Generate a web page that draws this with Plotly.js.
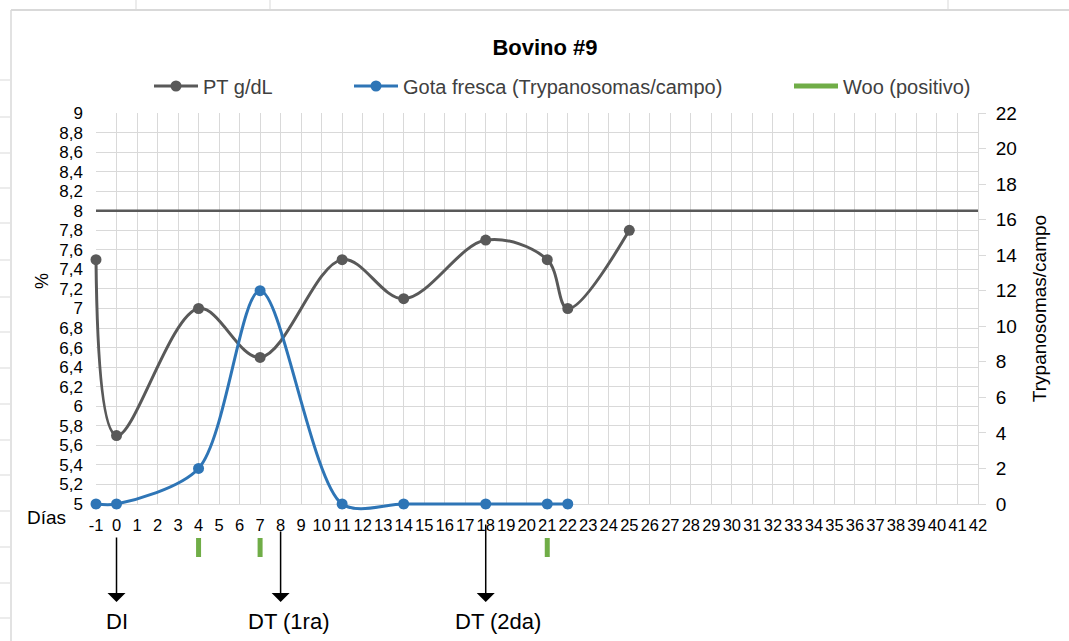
<!DOCTYPE html>
<html>
<head>
<meta charset="utf-8">
<script src="https://cdn.plot.ly/plotly-3.0.1.min.js"></script>
<style>
  html, body { margin: 0; padding: 0; background: #ffffff; }
  #chart { width: 1069px; height: 641px; }
</style>
</head>
<body>
<div id="chart"></div>
<script>
// Sampling days and measurements for Bovino #9
const ptDays = [-1, 0, 4, 7, 11, 14, 18, 21, 22, 25];
const ptValues = [7.5, 5.7, 7.0, 6.5, 7.5, 7.1, 7.7, 7.5, 7.0, 7.8];

const gotaDays = [-1, 0, 4, 7, 11, 14, 18, 21, 22];
const gotaValues = [0, 0, 2, 12, 0, 0, 0, 0, 0];

// Days with a positive Woo test
const wooDays = [4, 7, 21];

// Treatment / inoculation days and their labels
const eventDays = [0, 8, 18];
const eventLabels = ['DI', 'DT (1ra)', 'DT (2da)'];

// Reference level line across the whole period
const refDays = [-1, 42];
const refValues = [8, 8];

// Category ticks of the day axis
const tickDays = [-1, 0, 1, 2, 3, 4, 5, 6, 7, 8, 9, 10, 11, 12, 13, 14, 15, 16, 17, 18, 19, 20,
                  21, 22, 23, 24, 25, 26, 27, 28, 29, 30, 31, 32, 33, 34, 35, 36, 37, 38, 39, 40, 41, 42];
const tickLabels = tickDays.map(String);

// Plot-area geometry (pixels) used to place decorations in paper units
const M = { l: 96, r: 91, t: 113, b: 137 };
const W = 1069, H = 641;
const PW = W - M.l - M.r, PH = H - M.t - M.b;
const px = x => (x - M.l) / PW;
const py = y => (H - M.b - y) / PH;

const FONT = 'Liberation Sans, Arial, sans-serif';
const GREY = '#595959';
const BLUE = '#2e75b6';
const GREEN = '#70ad47';
const GRID = '#d9d9d9';

const traces = [
  {
    x: refDays, y: refValues, mode: 'lines', yaxis: 'y',
    line: { color: GREY, width: 2.5 }, showlegend: false, hoverinfo: 'skip', cliponaxis: false
  },
  {
    name: 'PT g/dL', x: ptDays, y: ptValues, mode: 'lines+markers', yaxis: 'y',
    line: { color: GREY, width: 3, shape: 'spline', smoothing: 1 },
    marker: { color: GREY, size: 11 }, legend: 'legend', cliponaxis: false
  },
  {
    name: 'Gota fresca (Trypanosomas/campo)', x: gotaDays, y: gotaValues, mode: 'lines+markers', yaxis: 'y2',
    line: { color: BLUE, width: 3, shape: 'spline', smoothing: 0.85 },
    marker: { color: BLUE, size: 11 }, legend: 'legend2', cliponaxis: false
  },
  {
    name: 'Woo (positivo)', x: [null], y: [null], mode: 'lines', yaxis: 'y',
    line: { color: GREEN, width: 5 }, legend: 'legend3', hoverinfo: 'skip'
  }
];

const shapes = [];
// Woo-positive marks under the day axis
wooDays.forEach(d => shapes.push({
  type: 'line', xref: 'x', yref: 'paper', x0: d, x1: d, y0: py(538), y1: py(557),
  line: { color: GREEN, width: 5 }
}));
// Worksheet frame around the chart object
shapes.push({ type: 'line', xref: 'paper', yref: 'paper', x0: px(11), x1: px(11), y0: py(10), y1: py(641),
  line: { color: GRID, width: 1.5 }, layer: 'below' });
shapes.push({ type: 'line', xref: 'paper', yref: 'paper', x0: px(11), x1: px(1069), y0: py(10), y1: py(10),
  line: { color: GRID, width: 2 }, layer: 'below' });
[80, 117, 153, 188, 223, 260, 297, 332, 368, 404, 440, 475, 511, 547, 583, 618].forEach(y => shapes.push({
  type: 'line', xref: 'paper', yref: 'paper', x0: px(0), x1: px(10), y0: py(y), y1: py(y),
  line: { color: GRID, width: 1 }, layer: 'below' }));
[136, 270, 948].forEach(x => shapes.push({
  type: 'line', xref: 'paper', yref: 'paper', x0: px(x), x1: px(x), y0: py(0), y1: py(9),
  line: { color: GRID, width: 1 }, layer: 'below' }));

const annotations = [];
const arrowTails = [536, 530, 523];
const labelShift = [0, 8, 12];
eventDays.forEach((d, i) => {
  annotations.push({
    x: d, xref: 'x', y: py(602), yref: 'paper', text: '', showarrow: true,
    ax: 0, ay: -(602 - arrowTails[i]), arrowhead: 1, arrowsize: 2, arrowwidth: 1.5,
    arrowcolor: '#000000', standoff: 0
  });
  annotations.push({
    x: d, xref: 'x', y: py(621), yref: 'paper', text: eventLabels[i], showarrow: false,
    xshift: labelShift[i], xanchor: 'center', yanchor: 'middle',
    font: { family: FONT, size: 22, color: '#000000' }
  });
});
annotations.push({
  x: px(46), xref: 'paper', y: py(517), yref: 'paper', text: 'Días', showarrow: false,
  xanchor: 'center', yanchor: 'middle', font: { family: FONT, size: 19, color: '#000000' }
});
annotations.push({
  x: px(42), xref: 'paper', y: py(281), yref: 'paper', text: '%', showarrow: false, textangle: -90,
  xanchor: 'center', yanchor: 'middle', font: { family: FONT, size: 18, color: '#000000' }
});

const legendBase = {
  orientation: 'h', yref: 'paper', y: py(86), yanchor: 'middle', xanchor: 'left',
  font: { family: FONT, size: 20, color: '#404040' }, bgcolor: 'rgba(0,0,0,0)', itemwidth: 44,
  tracegroupgap: 0
};

const layout = {
  width: W, height: H,
  margin: M,
  paper_bgcolor: '#ffffff', plot_bgcolor: '#ffffff',
  separators: ',.',
  showlegend: true,
  title: {
    text: '<b>Bovino #9</b>', x: px(545), xref: 'paper', xanchor: 'center',
    y: 1 - 47 / H, yanchor: 'middle', font: { family: FONT, size: 22, color: '#000000' }
  },
  legend: Object.assign({}, legendBase, { x: px(149) }),
  legend2: Object.assign({}, legendBase, { x: px(349) }),
  legend3: Object.assign({}, legendBase, { x: px(789) }),
  xaxis: {
    range: [-1, 42], tickmode: 'array', tickvals: tickDays, ticktext: tickLabels, tickangle: 0,
    showgrid: true, gridcolor: GRID, gridwidth: 1, zeroline: false,
    showline: true, linecolor: GRID, linewidth: 1, ticks: '',
    ticklabelstandoff: 6, layer: 'below traces',
    tickfont: { family: FONT, size: 16.5, color: '#000000' }, automargin: false
  },
  yaxis: {
    range: [5, 9], dtick: 0.2, tick0: 5, showgrid: true, gridcolor: GRID, gridwidth: 1,
    zeroline: false, showline: false, ticks: '', ticklabelstandoff: 12, layer: 'below traces',
    tickfont: { family: FONT, size: 17, color: '#000000' }, automargin: false
  },
  yaxis2: {
    range: [0, 22], dtick: 2, overlaying: 'y', side: 'right', showgrid: false, zeroline: false,
    showline: true, linecolor: GRID, linewidth: 1, ticks: 'outside', ticklen: 7, tickcolor: GRID,
    ticklabelstandoff: 6, layer: 'below traces',
    tickfont: { family: FONT, size: 19, color: '#000000' }, automargin: false,
    title: { text: 'Trypanosomas/campo', standoff: 16, font: { family: FONT, size: 19, color: '#000000' } }
  },
  shapes: shapes,
  annotations: annotations
};

Plotly.newPlot('chart', traces, layout, { displayModeBar: false, staticPlot: true }).then(gd => {
  // let curves that touch the frame edges draw in full width
  gd.querySelectorAll('.cartesianlayer .scatterlayer [clip-path], .cartesianlayer .plot[clip-path]')
    .forEach(el => el.removeAttribute('clip-path'));
});
</script>
</body>
</html>
